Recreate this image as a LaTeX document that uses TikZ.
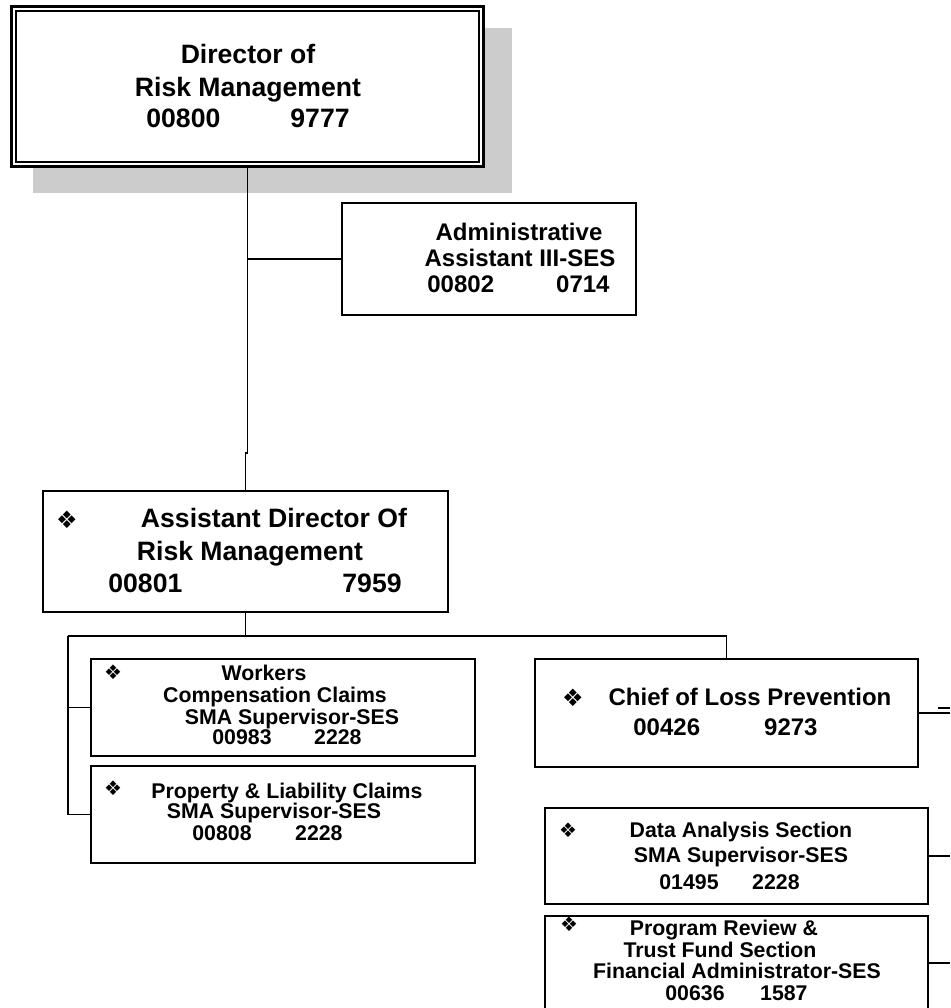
\documentclass[tikz,border=0pt]{standalone}
\usepackage{fontspec}
\setmainfont{Liberation Sans}
\newfontfamily\dingfont{DejaVu Sans}
\usetikzlibrary{fit}
\definecolor{shade}{HTML}{CCCCCC}
\begin{document}
\begin{tikzpicture}[x=0.5pt,y=-0.5pt,
  box/.style={draw, line width=1pt, fill=white, inner sep=0pt},
  link/.style={line width=0.9pt},
  big/.style={font=\bfseries\fontsize{13.3pt}{16pt}\selectfont, inner sep=0pt, anchor=base},
  mid/.style={font=\bfseries\fontsize{12pt}{14pt}\selectfont, inner sep=0pt, anchor=base},
  small/.style={font=\bfseries\fontsize{10.65pt}{12pt}\selectfont, inner sep=0pt, anchor=base},
  bul/.style={font=\dingfont\fontsize{12pt}{13pt}\selectfont, inner sep=0pt},
  sbul/.style={font=\dingfont\fontsize{10pt}{11pt}\selectfont, inner sep=0pt}
]
\useasboundingbox[fill=white] (0,0) rectangle (950,1008);

% drop shadow behind the director box
\node[fill=shade, inner sep=0pt, fit={(33,28) (512,193)}] (shadow) {};

% boxes
\node[box, line width=1.5pt, fit={(11.5,6.5) (483.5,166.5)}] (dir) {};
\node[draw, line width=0.75pt, inner sep=0pt, fit={(16,11) (479,162)}] (dirin) {};
\node[box, fit={(342,203) (636,315)}] (admin) {};
\node[box, fit={(43,491) (448,612)}] (asst) {};
\node[box, fit={(91,659) (475,756)}] (work) {};
\node[box, fit={(91,766) (475,863)}] (prop) {};
\node[box, fit={(535,659) (918,767)}] (chief) {};
\node[box, fit={(545,808) (928,904)}] (data) {};
\node[box, fit={(545,916) (928,1010)}] (prog) {};

% connectors
\coordinate (jog) at (0,453);
\coordinate (lbus) at (68,636);
\coordinate (edge) at (950,0);
\coordinate (dashA) at (938,708);
\coordinate (dashB) at (950,708);
\draw[link] (dir.south) -- (dir.south |- jog) -- (asst.north |- jog) -- (asst.north);
\draw[link] (dir.south |- admin.west) -- (admin.west);
\draw[link] (asst.south) -- (asst.south |- lbus);
\draw[link] (lbus) -- (chief.north |- lbus) -- (chief.north);
\draw[link] (lbus) |- (prop.west);
\draw[link] (lbus |- work.west) -- (work.west);
\draw[link] (chief.east) -- (chief.east -| edge);
\draw[link] (dashA) -- (dashB);
\draw[link] (data.east) -- (data.east -| edge);
\draw[link] (prog.east) -- (prog.east -| edge);

% director
\node[big] (dirA) at (248,63) {Director of};
\node[big] (dirB) at (248,96) {Risk Management};
\node[big, anchor=base west] (dirC) at (146,127) {00800};
\node[big, anchor=base east] (dirD) at (350,127) {9777};

% administrative assistant
\node[mid] (admA) at (519,240) {Administrative};
\node[mid] (admB) at (520,266) {Assistant III-SES};
\node[mid, anchor=base west] (admC) at (427,292) {00802};
\node[mid, anchor=base east] (admD) at (610,292) {0714};

% assistant director
\node[bul] (asstS) at (67,520) {❖};
\node[big] (asstA) at (274,527) {Assistant Director Of};
\node[big] (asstB) at (250,560) {Risk Management};
\node[big, anchor=base west] (asstC) at (108,592) {00801};
\node[big, anchor=base east] (asstD) at (402,592) {7959};

% workers compensation
\node[sbul] (workS) at (113,672) {❖};
\node[small] (workA) at (264,680) {Workers};
\node[small] (workB) at (275,702) {Compensation Claims};
\node[small] (workC) at (292,724) {SMA Supervisor-SES};
\node[small, anchor=base west] (workD) at (212,744) {00983};
\node[small, anchor=base east] (workE) at (362,744) {2228};

% property and liability
\node[sbul] (propS) at (113,788) {❖};
\node[small] (propA) at (287,798) {Property \& Liability Claims};
\node[small] (propB) at (274,818) {SMA Supervisor-SES};
\node[small, anchor=base west] (propC) at (192,840) {00808};
\node[small, anchor=base east] (propD) at (343,840) {2228};

% loss prevention
\node[bul] (chiefS) at (573,698) {❖};
\node[mid] (chiefA) at (750,705) {Chief of Loss Prevention};
\node[mid, anchor=base west] (chiefB) at (633,735) {00426};
\node[mid, anchor=base east] (chiefC) at (818,735) {9273};

% data analysis
\node[sbul] (dataS) at (568,830) {❖};
\node[small] (dataA) at (741,837) {Data Analysis Section};
\node[small] (dataB) at (741,862) {SMA Supervisor-SES};
\node[small, anchor=base west] (dataC) at (659,889) {01495};
\node[small, anchor=base east] (dataD) at (800,889) {2228};

% program review
\node[sbul] (progS) at (569,924) {❖};
\node[small] (progA) at (724,935) {Program Review \&};
\node[small] (progB) at (720,957) {Trust Fund Section};
\node[small] (progC) at (737,978) {Financial Administrator-SES};
\node[small, anchor=base west] (progD) at (665,1000) {00636};
\node[small, anchor=base east] (progE) at (808,1000) {1587};
\end{tikzpicture}
\end{document}
